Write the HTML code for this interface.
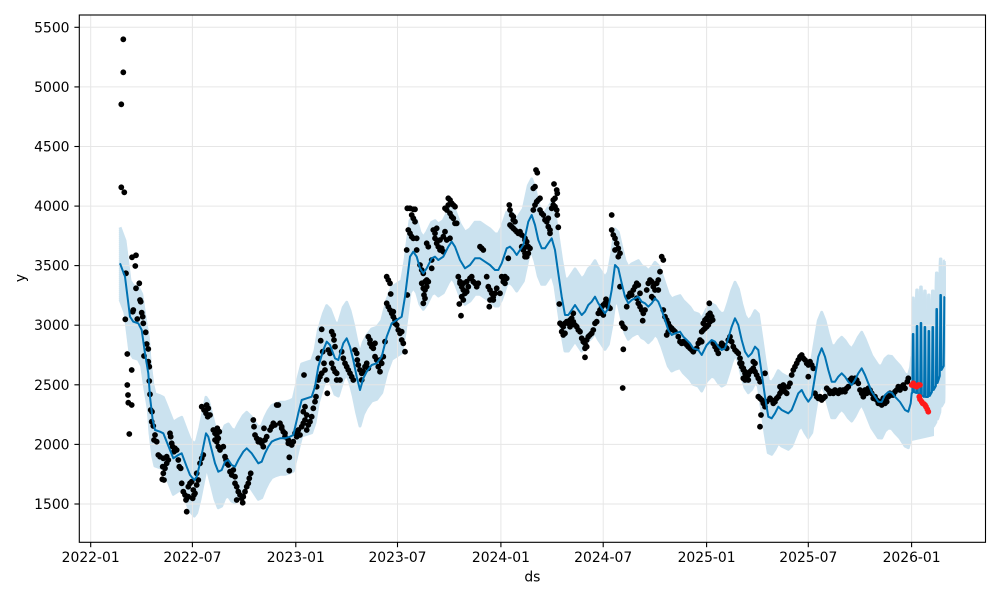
<!DOCTYPE html>
<html><head><meta charset="utf-8"><style>
html,body{margin:0;padding:0;background:#fff;}
svg{display:block;font-family:"DejaVu Sans","Liberation Sans",sans-serif;}
</style></head><body>
<svg width="1000" height="600" viewBox="0 0 1000 600" xmlns="http://www.w3.org/2000/svg">
<defs>
<polyline id="yh" fill="none" stroke-linejoin="round" points="120,263.3 125,276.7 130,316.7 133.3,321.7 138.3,323.3 141.7,330 145,353.3 148.3,373.3 150,396.7 152.7,420 155,430 160,431.7 163.3,433.3 166.7,441.7 170,450 173.3,458.3 178.3,455 181.7,453.3 186.7,466.7 190,475 194.3,480 196.7,476.7 200,463.3 203.3,446.7 206,433.3 208.3,436.7 211.7,450 215,463.3 218.3,471.7 221.7,470 225,461.7 228.3,460 231.7,465 235,466.7 238.3,460 243.3,451.7 246.7,448.3 251.7,453.3 255,458.3 258.3,463.3 261.7,461.7 265,453.3 268.3,446.7 271.7,441.7 275,440 280,438.3 285,438.3 290,436.7 293.3,435 298.3,413.3 301.7,400 306.7,398.3 311.7,396.7 315,386.7 318.3,366.7 323.3,350 326.7,341.7 330,345 335,358.3 338.3,360 343.3,343.3 346.7,338.3 350,346.7 353.3,360 356.7,376.7 360,390 363.3,378.3 366.7,371.7 371.7,365 376.7,363.3 381.7,356.7 386.7,336.7 391.7,323.3 396.7,320 401.7,316.7 405,296.7 410,256.7 413.3,251.7 416.7,256.7 420,268.3 423.3,273.3 426.7,268.3 431.7,258.3 435,256.7 438.3,260 443.3,256.7 448.3,246.7 451.7,241.7 455,246.7 460,260 465,268.3 470,265 475,258.3 480,258.3 485,261.7 490,265 495,270 498.3,270 501.7,263.3 506.7,248.3 510,246.7 513.3,250 516.7,255 520,250 523.3,245 528.3,221.7 531.7,215 535,225 538.3,240 541.7,248.3 545,248.3 548.3,243.3 551.7,238.3 555,250 558.3,273.3 561.7,296.7 565,315 568.3,315 571.7,310 575,305 578.3,310 581.7,315 585,311.7 588.3,305 591.7,301.7 595,296.7 598.3,303.3 601.7,308.3 605,313.3 608.3,308.3 611.7,290 615,265 618.3,268.3 621.7,283.3 625,296.7 628.3,303.3 631.7,300 635,298.3 638.3,296.7 641.7,301.7 645,303.3 648.3,306.7 651.7,303.3 655,298.3 658.3,301.7 661.7,310 665,320 668.3,330 671.7,335 675,333.3 680,331.7 683.3,336.7 686.7,340 690,343.3 693.3,348.3 698.3,350 701.7,355 706.7,345 711.7,340 715,341.7 718.3,346.7 721.7,350 725,348.3 728.3,338.3 731.7,326.7 735,318.3 738.3,325 741.7,340 745,351.7 748.3,356.7 751.7,353.3 755,346.7 758.3,350 761.7,373.3 765,396.7 768.3,416.7 771.7,418.3 775,413.3 778.3,406.7 781.7,410 785,411.7 788.3,413.3 791.7,410 795,401.7 798.3,393.3 801.7,390 805,396.7 808.3,401.7 811.7,396.7 815,376.7 818.3,356.7 821.7,348.3 825,356.7 828.3,370 831.7,381.7 835,381.7 838.3,376.7 841.7,373.3 845,376.7 848.3,381.7 851.7,385 855,380 858.3,373.3 861.7,368.3 865,375 868.3,383.3 871.7,391.7 875,396.7 878.3,401.7 881.7,402 885,395 888.3,392 891.7,392.5 895,396.7 900,402 905,410 908.3,411.7 910.7,403.3 911.7,393 912.26,393 912.82,334 913.39,334 913.95,392 916.2,393 916.76,326 917.32,326 917.88,393 920.13,395 920.69,323 921.25,323 921.82,395 924.06,397 924.63,327 925.19,327 925.75,397 928,397 928.56,331 929.12,331 929.68,396 931.93,392 932.49,327 933.06,327 933.62,390 935.87,386 936.43,309 936.99,309 937.55,383 939.8,376 940.36,295 940.92,295 941.49,370 943.73,366 944.3,297 944.86,297"/>
</defs>

<!-- uncertainty band (vertical sweep of yhat) -->
<g opacity="0.2" stroke="#0072B2" stroke-width="3" fill="none">
<use href="#yh" transform="translate(0,-36)"/><use href="#yh" transform="translate(0,-34)"/><use href="#yh" transform="translate(0,-32)"/><use href="#yh" transform="translate(0,-30)"/><use href="#yh" transform="translate(0,-28)"/><use href="#yh" transform="translate(0,-26)"/><use href="#yh" transform="translate(0,-24)"/><use href="#yh" transform="translate(0,-22)"/><use href="#yh" transform="translate(0,-20)"/><use href="#yh" transform="translate(0,-18)"/><use href="#yh" transform="translate(0,-16)"/><use href="#yh" transform="translate(0,-14)"/><use href="#yh" transform="translate(0,-12)"/><use href="#yh" transform="translate(0,-10)"/><use href="#yh" transform="translate(0,-8)"/><use href="#yh" transform="translate(0,-6)"/><use href="#yh" transform="translate(0,-4)"/><use href="#yh" transform="translate(0,-2)"/><use href="#yh"/><use href="#yh" transform="translate(0,2)"/><use href="#yh" transform="translate(0,4)"/><use href="#yh" transform="translate(0,6)"/><use href="#yh" transform="translate(0,8)"/><use href="#yh" transform="translate(0,10)"/><use href="#yh" transform="translate(0,12)"/><use href="#yh" transform="translate(0,14)"/><use href="#yh" transform="translate(0,16)"/><use href="#yh" transform="translate(0,18)"/><use href="#yh" transform="translate(0,20)"/><use href="#yh" transform="translate(0,22)"/><use href="#yh" transform="translate(0,24)"/><use href="#yh" transform="translate(0,26)"/><use href="#yh" transform="translate(0,28)"/><use href="#yh" transform="translate(0,30)"/><use href="#yh" transform="translate(0,32)"/><use href="#yh" transform="translate(0,34)"/><use href="#yh" transform="translate(0,36)"/>
<polygon stroke="none" fill="#0072B2" points="911.7,420 934,425 934,436 911.7,441"/>
</g>

<!-- grid -->
<g stroke="#e6e6e6" stroke-width="1">
<line x1="79.3" x2="985.5" y1="504" y2="504"/><line x1="79.3" x2="985.5" y1="444.4" y2="444.4"/><line x1="79.3" x2="985.5" y1="384.8" y2="384.8"/><line x1="79.3" x2="985.5" y1="325.2" y2="325.2"/><line x1="79.3" x2="985.5" y1="265.6" y2="265.6"/><line x1="79.3" x2="985.5" y1="206.1" y2="206.1"/><line x1="79.3" x2="985.5" y1="146.5" y2="146.5"/><line x1="79.3" x2="985.5" y1="86.9" y2="86.9"/><line x1="79.3" x2="985.5" y1="27.3" y2="27.3"/>
<line y1="15" y2="542.3" x1="90.7" x2="90.7"/><line y1="15" y2="542.3" x1="192.4" x2="192.4"/><line y1="15" y2="542.3" x1="295.8" x2="295.8"/><line y1="15" y2="542.3" x1="397.5" x2="397.5"/><line y1="15" y2="542.3" x1="500.9" x2="500.9"/><line y1="15" y2="542.3" x1="603.2" x2="603.2"/><line y1="15" y2="542.3" x1="706.6" x2="706.6"/><line y1="15" y2="542.3" x1="808.3" x2="808.3"/><line y1="15" y2="542.3" x1="911.6" x2="911.6"/>
</g>

<!-- observed points -->
<path fill="none" stroke="#000" stroke-width="5.8" stroke-linecap="round" d="M123.3 39.3h0M123.3 72.3h0M121.3 104.3h0M121.3 187.3h0M124.3 192.3h0M125.7 273.3h0M132 257.3h0M136 255.3h0M135.3 266h0M139.3 283.3h0M136 288.3h0M126 273.3h0M140 300h0M140.7 301.7h0M133.3 310h0M132.7 311.7h0M141.7 312.7h0M142.7 316.7h0M137.3 319h0M143.3 323.3h0M125.3 319.3h0M145.7 332.3h0M146.7 344h0M148.3 349h0M144 356h0M127.3 354h0M148.3 361.7h0M149.3 366.7h0M131.7 370h0M149.3 381h0M127.3 385h0M150 394.3h0M128 395h0M128.3 402.7h0M131.7 405h0M150.7 410h0M152 411.7h0M129.3 434h0M151.7 421.7h0M153.3 426h0M155 435h0M154 440h0M156.7 441.7h0M158.3 455h0M160 456.7h0M163.3 458.3h0M166.7 456.7h0M168.3 460h0M162.7 466.7h0M165 468.3h0M163.3 473.3h0M166.7 463.3h0M162.3 479.3h0M164 480h0M170 433.3h0M170.7 436.7h0M171.7 443.3h0M172.7 446.7h0M175 448.3h0M174 451.7h0M176.7 450h0M178.3 460h0M179.3 466.7h0M180.7 468.3h0M181.7 483.3h0M183.3 491.7h0M185 495h0M186.7 498.3h0M188.3 486.7h0M190 483.3h0M191.7 481.7h0M193.3 490h0M195 493.3h0M196.7 485h0M198.3 480h0M186 500h0M188.3 496.7h0M192.7 498.3h0M194 495h0M186.7 511.7h0M196.7 473.3h0M200 463.3h0M201.7 458.3h0M203.3 455h0M201.7 406.7h0M204 410h0M206.7 405h0M208.3 408.3h0M206 413.3h0M207.7 416.7h0M210 415h0M213.3 430h0M215 433.3h0M216.7 435h0M218.3 438.3h0M217.3 428.3h0M219.3 431.7h0M215 440h0M216.7 441.7h0M218.3 446.7h0M220 450h0M223.3 446.7h0M225 456.7h0M226 460h0M226.7 463.3h0M228.3 465h0M230 471.7h0M231.7 475h0M233.3 470h0M235 476.7h0M235 483.3h0M236.7 486.7h0M238.3 491.7h0M240 495h0M241.7 498.3h0M243.3 496.7h0M245 491.7h0M246.7 486.7h0M248.3 483.3h0M242.7 502.7h0M236.7 500h0M249.3 478.3h0M250.7 473.3h0M253.3 420h0M254 426.7h0M255 435h0M256.7 438.3h0M258.3 441.7h0M260 440h0M261.7 443.3h0M263.3 446.7h0M265 440h0M266.7 436.7h0M264 428.3h0M270 430h0M271.7 426.7h0M273.3 423.3h0M275 425h0M278.3 405h0M276.7 405h0M280 423.3h0M281.7 428.3h0M283.3 431.7h0M285 433.3h0M288.3 440h0M290 443.3h0M291.7 445h0M293.3 441.7h0M289.3 457.3h0M289.3 470.7h0M281.7 426.7h0M285 436.7h0M288.3 443.3h0M295 433.3h0M296.7 436.7h0M298.3 430h0M300 435h0M301.7 426.7h0M303.3 423.3h0M305 420h0M306.7 430h0M308.3 425h0M310 421.7h0M311.7 416.7h0M303.3 411.7h0M305 406.7h0M306.7 415h0M304 375h0M313.3 408.3h0M315 401.7h0M316 396.7h0M316.7 386.7h0M318.3 380h0M320 376.7h0M321.7 373.3h0M318.3 358.3h0M321.7 329.3h0M320.7 340.7h0M322.7 351.7h0M324 363.3h0M325 370h0M326.7 380h0M327.3 393.3h0M328.3 350h0M330 353.3h0M331.7 331.7h0M333.3 335h0M334 340h0M335 346.7h0M331.7 363.3h0M333.3 368.3h0M335 371.7h0M336.7 373.3h0M336.7 380h0M340 380h0M341.7 351.7h0M343.3 358.3h0M345 363.3h0M346.7 366.7h0M348.3 370h0M350 373.3h0M351.7 376.7h0M353.3 380h0M355 350h0M356.7 353.3h0M357.3 360h0M358.3 365h0M360 370h0M361.7 373.3h0M363.3 371.7h0M361.7 380h0M365 366.7h0M366.7 363.3h0M368.3 368.3h0M368.3 336.7h0M370 340h0M371.7 346.7h0M373.3 348.3h0M370 343.3h0M375 343.3h0M375 356.7h0M376.7 360h0M378.3 366.7h0M380 371.7h0M380 360h0M381.7 363.3h0M383.3 356.7h0M385 341.7h0M386.7 303.3h0M388.3 306.7h0M390 310h0M391.7 313.3h0M393.3 316.7h0M395 320h0M386.7 276.7h0M388.3 280h0M390 283.3h0M390.7 294h0M395 323.3h0M396.7 325h0M398.3 330h0M400 333.3h0M401.7 340h0M403.3 343.3h0M405 351.7h0M393.3 311.7h0M401.7 331.7h0M407.3 295h0M406.7 250h0M408.3 230h0M407.3 208.3h0M410 208.3h0M413.3 209.3h0M415 209.3h0M411.7 215h0M413.3 218.3h0M415 221.7h0M410 233.3h0M411.7 236.7h0M413.3 238.3h0M416.7 238.3h0M416.7 250h0M420 265h0M421.7 270h0M423.3 273.3h0M421.7 283.3h0M425 281.7h0M426.7 280h0M428.3 281.7h0M423.3 288.3h0M425 290h0M426.7 286.7h0M424 295h0M425 298.3h0M423.3 303.3h0M431.7 268.3h0M431.7 260h0M426.7 243.3h0M428.3 246.7h0M433.3 230h0M435 233.3h0M436.7 228.3h0M435 238.3h0M436.7 243.3h0M438.3 246.7h0M440 250h0M441.7 248.3h0M443.3 251.7h0M440 240h0M443.3 236.7h0M445 231.7h0M445 208.3h0M446.7 210h0M448.3 205h0M450 213.3h0M451.7 216.7h0M453.3 218.3h0M455 223.3h0M456.7 223.3h0M448.3 198.3h0M450 200h0M451.7 203.3h0M453.3 205h0M455 206.7h0M450 238.3h0M446.7 240h0M458.3 276.7h0M460 283.3h0M461.7 286.7h0M463.3 290h0M465 293.3h0M466.7 291.7h0M468.3 286.7h0M460 281.7h0M463.3 283.3h0M466.7 281.7h0M470 278.3h0M471.7 276.7h0M473.3 281.7h0M461.7 296.7h0M463.3 300h0M459.3 304h0M461 315.7h0M475 283.3h0M476.7 286.7h0M478.3 283.3h0M480 246.7h0M481.7 248.3h0M483.3 250h0M486.7 276.7h0M488.3 286.7h0M490 290h0M491.7 293.3h0M493.3 296.7h0M495 293.3h0M496.7 288.3h0M489.3 306.7h0M490 300h0M493.3 300h0M500 293.3h0M501.7 276.7h0M503.3 278.3h0M505 276.7h0M506.7 278.3h0M503.3 281.7h0M505 283.3h0M508.3 258.3h0M509.3 205h0M510 210h0M511.7 215h0M513.3 216.7h0M510 225h0M511.7 226.7h0M513.3 228.3h0M515 230h0M516.7 231.7h0M518.3 233.3h0M513.3 220h0M515 221.7h0M520 231.7h0M521.7 235h0M525 240h0M526.7 246.7h0M528.3 253.3h0M525 256.7h0M526.7 256.7h0M521.7 246.7h0M523.3 250h0M525 253.3h0M525 238.3h0M526.7 241.7h0M528.3 246.7h0M530 248.3h0M533.3 210h0M535 205h0M536.7 201.7h0M538.3 200h0M540 198.3h0M533.3 188.3h0M535 186.7h0M536 170h0M537.3 172.7h0M540 210h0M541.7 213.3h0M543.3 215h0M545 220h0M546.7 221.7h0M548.3 218.3h0M548.3 226.7h0M550 230h0M550 233.3h0M551.7 208.3h0M553.3 205h0M555 206.7h0M556.7 210h0M557.3 215h0M553.3 200h0M555 198.3h0M554 184h0M556.7 190h0M557.3 193.3h0M558.3 227.3h0M559.3 304h0M560 323.3h0M561.7 325h0M563.3 326.7h0M565 323.3h0M566.7 321.7h0M568.3 323.3h0M570 326.7h0M571.7 325h0M573.3 321.7h0M575 325h0M576.7 326.7h0M578.3 330h0M580 331.7h0M561.7 331.7h0M563.3 335h0M565 333.3h0M570 320h0M571.7 318.3h0M573.3 313.3h0M581.7 338.3h0M583.3 341.7h0M585 343.3h0M586.7 340h0M588.3 336.7h0M590 335h0M591.7 333.3h0M585 348.3h0M586.7 346.7h0M585 357.3h0M593.3 330h0M595 323.3h0M596.7 321.7h0M598.3 313.3h0M600 310h0M601.7 306.7h0M603.3 305h0M605 303.3h0M606.7 301.7h0M608.3 306.7h0M610 308.3h0M601.7 313.3h0M603.3 315h0M606 299.3h0M611.7 215h0M611.7 230h0M613.3 235h0M615 238.3h0M616.7 243.3h0M618.3 248.3h0M620 253.3h0M615 250h0M618.3 256.7h0M620 286.7h0M621.7 323.3h0M623.3 326.7h0M625 328.3h0M623.3 349.3h0M622.7 388h0M626.7 306.7h0M628.3 296.7h0M630 293.3h0M631.7 295h0M633.3 290h0M635 286.7h0M636.7 283.3h0M638.3 285h0M640 293.3h0M636.7 298.3h0M638.3 303.3h0M640 306.7h0M641.7 310h0M643.3 313.3h0M645 310h0M642.7 320.7h0M646.7 290h0M648.3 283.3h0M650 280h0M651.7 281.7h0M653.3 286.7h0M655 290h0M656.7 283.3h0M658.3 280h0M660 271.7h0M661.7 256.7h0M663.3 260h0M651.7 296.7h0M653.3 298.3h0M658.3 290h0M663.3 310h0M665 316.7h0M666.7 320h0M668.3 323.3h0M670 326.7h0M671.7 328.3h0M673.3 330h0M675 331.7h0M666.7 335h0M668.3 331.7h0M678.3 336.7h0M680 341.7h0M681.7 343.3h0M683.3 341.7h0M685 343.3h0M686.7 345h0M688.3 346.7h0M690 348.3h0M691.7 350h0M693.3 351.7h0M696.7 348.3h0M698.3 343.3h0M700 340h0M701.7 331.7h0M703.3 323.3h0M705 320h0M706.7 318.3h0M708.3 315h0M710 313.3h0M711.7 316.7h0M709.3 303.3h0M712.7 320h0M710 321.7h0M708.3 325h0M706.7 326.7h0M705 328.3h0M703.3 330h0M701.7 341.7h0M713.3 343.3h0M715 346.7h0M716.7 350h0M718.3 353.3h0M720 346.7h0M721.7 343.3h0M723.3 345h0M725 346.7h0M726.7 348.3h0M728.3 340h0M730 336.7h0M731.7 341.7h0M733.3 346.7h0M735 350h0M736.7 351.7h0M738.3 353.3h0M740 358.3h0M741.7 363.3h0M743.3 368.3h0M745 371.7h0M746.7 376.7h0M748.3 380h0M740 363.3h0M741.7 366.7h0M743.3 370h0M745 373.3h0M748.3 375h0M750 371.7h0M751.7 370h0M753.3 368.3h0M755 371.7h0M756.7 375h0M758.3 378.3h0M760 381.7h0M743.3 378.3h0M745 380h0M755 363.3h0M753.3 361.7h0M765 373.3h0M758.3 396.7h0M760 398.3h0M761.7 400h0M761 415h0M760 426.7h0M763.3 403.3h0M765 406.7h0M766.7 401.7h0M770 398.3h0M771.7 400h0M773.3 403.3h0M775 401.7h0M776.7 398.3h0M778.3 396.7h0M780 393.3h0M781.7 390h0M783.3 388.3h0M785 391.7h0M786.7 393.3h0M788.3 386.7h0M790 383.3h0M780 386.7h0M783.3 385h0M791.7 375h0M793.3 370h0M795 366.7h0M796.7 363.3h0M798.3 360h0M800 356.7h0M801.7 355h0M803.3 358.3h0M805 360h0M806.7 363.3h0M808.3 365h0M810 361.7h0M811.7 365h0M813.3 368.3h0M808.3 376.7h0M815 393.3h0M816.7 396.7h0M818.3 398.3h0M820 396.7h0M821.7 400h0M823.3 398.3h0M825 396.7h0M826.7 388.3h0M828.3 390h0M830 393.3h0M831.7 391.7h0M833.3 393.3h0M835 390h0M836.7 391.7h0M838.3 393.3h0M840 390h0M841.7 391.7h0M843.3 390h0M845 391.7h0M846.7 388.3h0M848.3 386.7h0M850 380h0M851.7 378.3h0M853.3 381.7h0M855 378.3h0M856.7 380h0M858.3 383.3h0M860 390h0M861.7 393.3h0M863.3 396.7h0M865 390h0M866.7 393.3h0M868.3 388.3h0M870 390h0M871.7 393.3h0M873.3 398.3h0M875 396.7h0M876.7 400h0M878.3 403.3h0M880 401.7h0M881.7 405h0M883.3 398.3h0M885 403.3h0M886.7 401.7h0M888.3 396.7h0M890 393.3h0M891.7 395h0M893.3 395h0M895 391.7h0M896.7 390h0M898.3 386.7h0M900 390h0M901.7 386.7h0M903.3 385h0M905 388.3h0M907.3 381.7h0M908.3 378.3h0"/>

<!-- forecast line -->
<use href="#yh" stroke="#0072B2" stroke-width="2"/>

<!-- red points -->
<path fill="none" stroke="#ff1a1a" stroke-width="5.8" stroke-linecap="round" d="M911.7 385h0M913.3 383.3h0M915 386h0M916.7 386.7h0M918.3 385h0M920 385h0M919.3 396.7h0M920 399.3h0M921.7 401.7h0M922.7 403.3h0M924 404h0M925 405h0M926 406.7h0M927.3 409.3h0M928.3 411.7h0"/>

<!-- axes frame -->
<rect x="79.3" y="15" width="906.2" height="527.3" fill="none" stroke="#000" stroke-width="1.1"/>

<!-- ticks -->
<g stroke="#000" stroke-width="1.1">
<line x1="74.4" x2="79.3" y1="504" y2="504"/><line x1="74.4" x2="79.3" y1="444.4" y2="444.4"/><line x1="74.4" x2="79.3" y1="384.8" y2="384.8"/><line x1="74.4" x2="79.3" y1="325.2" y2="325.2"/><line x1="74.4" x2="79.3" y1="265.6" y2="265.6"/><line x1="74.4" x2="79.3" y1="206.1" y2="206.1"/><line x1="74.4" x2="79.3" y1="146.5" y2="146.5"/><line x1="74.4" x2="79.3" y1="86.9" y2="86.9"/><line x1="74.4" x2="79.3" y1="27.3" y2="27.3"/>
<line y1="542.3" y2="547.2" x1="90.7" x2="90.7"/><line y1="542.3" y2="547.2" x1="192.4" x2="192.4"/><line y1="542.3" y2="547.2" x1="295.8" x2="295.8"/><line y1="542.3" y2="547.2" x1="397.5" x2="397.5"/><line y1="542.3" y2="547.2" x1="500.9" x2="500.9"/><line y1="542.3" y2="547.2" x1="603.2" x2="603.2"/><line y1="542.3" y2="547.2" x1="706.6" x2="706.6"/><line y1="542.3" y2="547.2" x1="808.3" x2="808.3"/><line y1="542.3" y2="547.2" x1="911.6" x2="911.6"/>
</g>

<!-- tick labels -->
<g font-size="13.9" fill="#000" text-anchor="end">
<text x="69.5" y="509">1500</text><text x="69.5" y="449.4">2000</text><text x="69.5" y="389.8">2500</text><text x="69.5" y="330.2">3000</text><text x="69.5" y="270.6">3500</text><text x="69.5" y="211.1">4000</text><text x="69.5" y="151.5">4500</text><text x="69.5" y="91.9">5000</text><text x="69.5" y="32.3">5500</text>
</g>
<g font-size="13.9" fill="#000" text-anchor="middle">
<text x="90.7" y="562">2022-01</text><text x="192.4" y="562">2022-07</text><text x="295.8" y="562">2023-01</text><text x="397.5" y="562">2023-07</text><text x="500.9" y="562">2024-01</text><text x="603.2" y="562">2024-07</text><text x="706.6" y="562">2025-01</text><text x="808.3" y="562">2025-07</text><text x="911.6" y="562">2026-01</text>
<text x="532.4" y="581.5">ds</text>
<text x="25" y="278" transform="rotate(-90 25 278)">y</text>
</g>
</svg>
</body></html>
